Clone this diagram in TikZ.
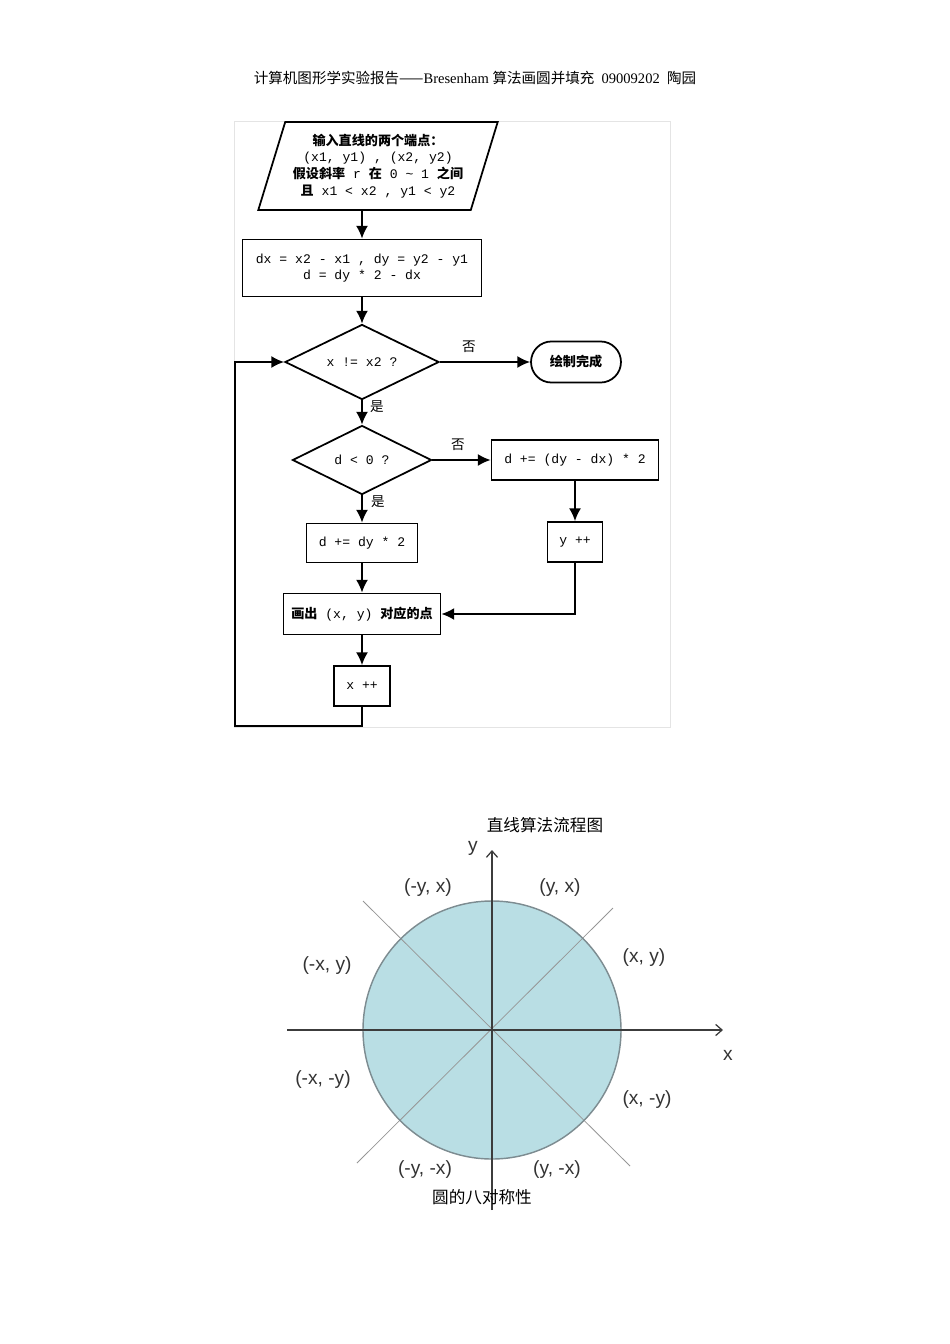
\documentclass[tikz,border=0pt]{standalone}
\usepackage{fontspec}
\setmainfont{Liberation Serif}
\newfontfamily\cjk{Noto Sans CJK SC}
\newfontfamily\codefont{Liberation Mono}
\newfontfamily\axisfont{Liberation Sans}
\usepackage{tikz}
\usetikzlibrary{positioning, shapes.geometric, arrows.meta, calc}

\newcommand{\zh}[1]{{\cjk #1}}
\newcommand{\zhb}[1]{{\cjk\bfseries #1}}
\definecolor{discfill}{RGB}{185,222,228}
\definecolor{discline}{RGB}{125,140,145}
\definecolor{axisgrey}{RGB}{60,60,60}
\definecolor{diaggrey}{RGB}{150,150,150}
\definecolor{framegrey}{RGB}{228,228,228}

\begin{document}
\begin{tikzpicture}[x=0.626pt, y=-0.626pt,
    flow/.style={draw, line width=1.1pt, inner sep=2pt, align=center,
      font=\codefont\fontsize{8.2}{10.4}\selectfont},
    box/.style={flow, rectangle},
    decision/.style={flow, diamond, shape aspect=2},
    arrow/.style={line width=1.1pt, -{Latex[length=8pt, width=7.5pt]}},
    branch/.style={font=\cjk\fontsize{8.5}{10}\selectfont},
    caption/.style={font=\cjk\fontsize{10.4}{12}\selectfont},
    axis/.style={axisgrey, line width=0.8pt, -{Straight Barb[length=4pt, width=7pt]}},
    pointlabel/.style={font=\axisfont\fontsize{12}{14}\selectfont, text=black!80}]
  \useasboundingbox (0,0) rectangle (950,1344);

  % Header
  \node[font=\fontsize{9.1}{11}\selectfont] (header) at (475,78)
    {\zh{计算机图形学实验报告——}Bresenham \zh{算法画圆并填充}\enspace 09009202\enspace \zh{陶园}};

  % Flowchart frame
  \draw[framegrey] (234,121) rectangle (670,727);

  % Nodes
  \node[flow, trapezium, trapezium left angle=70, trapezium right angle=110,
        trapezium stretches=true, minimum width=150pt, minimum height=55pt] (input) at (378,166)
    {\zhb{输入直线的两个端点：}\\(x1, y1) , (x2, y2)\\\zhb{假设斜率} r \zhb{在} 0 \textasciitilde{} 1 \zhb{之间}\\\zhb{且} x1 < x2 , y1 < y2};
  \node[box, minimum width=149.6pt, minimum height=35.7pt] (init) at (362,268)
    {dx = x2 - x1 , dy = y2 - y1\\d = dy * 2 - dx};
  \node[decision, minimum width=96.4pt, minimum height=47pt] (check) at (362,362) {x != x2 ?};
  \node[box, rounded corners=12.8pt, minimum width=56.3pt, minimum height=25.7pt] (finish) at (576,362) {\zhb{绘制完成}};
  \node[decision, minimum width=87pt, minimum height=43.2pt] (cond) at (362,460) {d < 0 ?};
  \node[box, minimum width=104.5pt, minimum height=25pt] (stepno) at (575,460) {d += (dy - dx) * 2};
  \node[box, minimum width=34.4pt, minimum height=25pt] (yinc) at (575,542) {y ++};
  \node[box, minimum width=69.5pt, minimum height=24.4pt] (stepyes) at (362,543) {d += dy * 2};
  \node[box, minimum width=98.3pt, minimum height=25.7pt] (plot) at (362,614) {\zhb{画出} (x, y) \zhb{对应的点}};
  \node[box, minimum width=35pt, minimum height=25pt] (xinc) at (362,686) {x ++};
  \coordinate (loop) at (235,726);

  % Branch labels
  \node[branch] (no1) at (469,347) {否};
  \node[branch] (yes1) at (377,407) {是};
  \node[branch] (no2) at (458,445) {否};
  \node[branch] (yes2) at (378,502) {是};

  % Arrows
  \draw[arrow] (input.south -| init.north) -- (init.north);
  \draw[arrow] (init) -- (check);
  \draw[arrow] (check) -- (finish);
  \draw[arrow] (check) -- (cond);
  \draw[arrow] (cond) -- (stepno);
  \draw[arrow] (cond) -- (stepyes);
  \draw[arrow] (stepno) -- (yinc);
  \draw[arrow] (stepyes) -- (plot);
  \draw[arrow] (yinc) |- (plot);
  \draw[arrow] (plot) -- (xinc);
  \draw[arrow] (xinc) |- (loop) |- (check);

  \node[caption] (flowcap) at (545,825) {直线算法流程图};

  % Circle symmetry
  \coordinate (O) at (492,1030);
  \fill[discfill] (O) circle[radius=129];
  \coordinate (xs) at (287,1030);
  \coordinate (xe) at (723,1030);
  \coordinate (ys) at (492,1210);
  \coordinate (ye) at (492,850);
  \coordinate (d1a) at (363,901);
  \coordinate (d1b) at (630,1166);
  \coordinate (d2a) at (613,908);
  \coordinate (d2b) at (357,1163);
  \draw[diaggrey, line width=0.5pt] (d1a) -- (d1b);
  \draw[diaggrey, line width=0.5pt] (d2a) -- (d2b);
  \draw[discline, line width=0.9pt] (O) circle[radius=129];
  \draw[axis] (xs) -- (xe);
  \draw[axis] (ys) -- (ye);

  \node[pointlabel] (xlab) at (728,1055) {x};
  \node[pointlabel] (ylab) at (473,848) {y};
  \node[pointlabel] (p1) at (560,888) {(y, x)};
  \node[pointlabel] (p2) at (428,888) {(-y, x)};
  \node[pointlabel] (p3) at (644,958) {(x, y)};
  \node[pointlabel] (p4) at (327,966) {(-x, y)};
  \node[pointlabel] (p5) at (323,1080) {(-x, -y)};
  \node[pointlabel] (p6) at (647,1100) {(x, -y)};
  \node[pointlabel] (p7) at (425,1170) {(-y, -x)};
  \node[pointlabel] (p8) at (557,1170) {(y, -x)};

  \node[caption] (circcap) at (482,1197) {圆的八对称性};
\end{tikzpicture}
\end{document}
